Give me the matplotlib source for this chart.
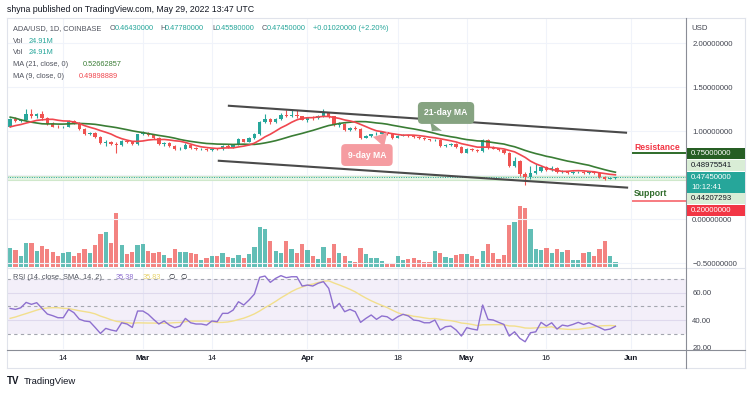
import matplotlib.pyplot as plt
import matplotlib.lines as mlines
import matplotlib.patches as mpatches
import numpy as np
import pandas as pd

plt.rcParams['font.family'] = ['Liberation Sans', 'DejaVu Sans']

W, H = 750, 393
C_UP = '#26a69a'
C_DN = '#ef5350'
C_TXT = '#131722'
C_GRID = '#f0f3fa'

# ---- data (ADA/USD daily, Feb 4 -> May 29 2022) ----
first_open = 1.045
closes = [1.136, 1.115, 1.125, 1.19, 1.165, 1.19, 1.145, 1.08, 1.05, 1.04,
          1.045, 1.11, 1.09, 1.02, 0.97, 0.975, 0.93, 0.86, 0.875, 0.855,
          0.845, 0.885, 0.87, 0.85, 0.966, 0.975, 0.955, 0.925, 0.85, 0.86,
          0.83, 0.79, 0.80, 0.845, 0.81, 0.795, 0.80, 0.78, 0.80, 0.79,
          0.835, 0.82, 0.845, 0.905, 0.88, 0.915, 0.97, 1.10, 1.135, 1.10,
          1.14, 1.18, 1.165, 1.185, 1.165, 1.13, 1.155, 1.145, 1.17, 1.20,
          1.165, 1.07, 1.085, 1.01, 1.03, 1.02, 0.925, 0.945, 0.965, 0.97,
          0.985, 0.965, 0.92, 0.945, 0.955, 0.94, 0.93, 0.915, 0.905, 0.895,
          0.90, 0.825, 0.84, 0.85, 0.82, 0.755, 0.80, 0.785, 0.775, 0.90,
          0.82, 0.80, 0.78, 0.75, 0.60, 0.66, 0.51, 0.48, 0.52, 0.545,
          0.59, 0.56, 0.585, 0.53, 0.545, 0.525, 0.53, 0.535, 0.525, 0.535,
          0.52, 0.48, 0.455, 0.4643, 0.4745]
highs = [1.15, 1.16, 1.14, 1.25, 1.25, 1.21, 1.23, 1.16, 1.10, 1.07,
         1.06, 1.12, 1.12, 1.10, 1.03, 0.99, 0.99, 0.94, 0.90, 0.89,
         0.87, 0.90, 0.90, 0.88, 0.97, 1.00, 0.99, 0.96, 0.93, 0.87,
         0.87, 0.84, 0.82, 0.86, 0.85, 0.82, 0.81, 0.81, 0.81, 0.81,
         0.84, 0.85, 0.855, 0.92, 0.91, 0.93, 0.98, 1.11, 1.19, 1.15,
         1.15, 1.20, 1.24, 1.24, 1.24, 1.17, 1.16, 1.17, 1.18, 1.25,
         1.21, 1.17, 1.10, 1.09, 1.04, 1.06, 1.03, 0.96, 0.97, 0.99,
         1.00, 0.99, 0.97, 0.96, 0.97, 0.96, 0.95, 0.94, 0.93, 0.91,
         0.91, 0.905, 0.85, 0.86, 0.86, 0.825, 0.81, 0.81, 0.79, 0.91,
         0.905, 0.83, 0.805, 0.785, 0.76, 0.70, 0.67, 0.53, 0.60, 0.63,
         0.60, 0.60, 0.60, 0.59, 0.555, 0.55, 0.54, 0.55, 0.545, 0.54,
         0.54, 0.525, 0.49, 0.47, 0.4778]
lows = [1.04, 1.10, 1.10, 1.12, 1.15, 1.15, 1.13, 1.07, 1.04, 1.03,
        1.03, 1.04, 1.08, 1.01, 0.96, 0.95, 0.92, 0.85, 0.83, 0.84,
        0.75, 0.83, 0.86, 0.84, 0.84, 0.95, 0.94, 0.91, 0.84, 0.83,
        0.82, 0.78, 0.78, 0.79, 0.80, 0.785, 0.785, 0.77, 0.775, 0.78,
        0.785, 0.81, 0.81, 0.84, 0.87, 0.87, 0.91, 0.96, 1.09, 1.08,
        1.09, 1.13, 1.16, 1.16, 1.15, 1.12, 1.10, 1.13, 1.14, 1.16,
        1.15, 1.06, 1.05, 1.00, 1.00, 1.01, 0.91, 0.92, 0.93, 0.95,
        0.96, 0.95, 0.91, 0.915, 0.94, 0.93, 0.92, 0.91, 0.90, 0.885,
        0.885, 0.815, 0.815, 0.83, 0.81, 0.745, 0.745, 0.775, 0.76, 0.765,
        0.80, 0.79, 0.77, 0.74, 0.59, 0.59, 0.49, 0.39, 0.45, 0.51,
        0.53, 0.55, 0.55, 0.52, 0.52, 0.515, 0.515, 0.525, 0.515, 0.515,
        0.51, 0.47, 0.445, 0.45, 0.4558]
volumes = [95, 83, 53, 121, 118, 81, 106, 88, 75, 53,
           71, 73, 53, 68, 88, 68, 110, 164, 178, 123,
           269, 108, 63, 73, 110, 113, 81, 71, 76, 61,
           46, 88, 76, 76, 68, 65, 33, 43, 53, 53,
           71, 50, 46, 61, 46, 65, 98, 199, 191, 133,
           78, 68, 133, 91, 71, 113, 85, 56, 40, 98,
           46, 113, 68, 56, 30, 25, 95, 65, 43, 43,
           30, 22, 22, 56, 37, 40, 46, 33, 23, 23,
           81, 68, 50, 46, 61, 65, 65, 53, 40, 78,
           116, 68, 40, 61, 209, 226, 305, 295, 191, 91,
           85, 95, 71, 88, 75, 85, 37, 37, 68, 75,
           53, 91, 129, 53, 24.91]
rsi = [48.5, 47.8, 49.0, 52.9, 51.5, 52.7, 48.5, 44.4, 43.2, 41.7,
       41.7, 47.8, 45.4, 40.7, 39.3, 38.8, 34.6, 30.2, 33.9, 32.7,
       31.9, 38.0, 37.1, 34.6, 46.6, 46.6, 44.2, 40.5, 37.1, 39.3,
       36.3, 34.4, 35.6, 41.2, 38.0, 37.1, 37.1, 36.3, 39.3, 38.8,
       44.9, 44.9, 47.3, 53.4, 51.0, 54.7, 59.0, 71.3, 72.2, 67.6,
       70.5, 72.5, 71.0, 71.7, 71.7, 64.9, 65.6, 64.9, 66.9, 68.1,
       63.2, 48.5, 52.2, 46.1, 47.8, 46.1, 38.3, 41.2, 43.7, 40.5,
       43.0, 42.4, 39.8, 42.4, 44.2, 43.0, 40.0, 39.5, 38.0, 38.0,
       40.0, 32.7, 35.1, 35.6, 32.7, 28.3, 34.4, 33.4, 32.7, 51.0,
       40.5, 40.0, 38.3, 36.8, 28.3, 31.4, 26.6, 24.1, 30.7, 31.4,
       38.3, 35.6, 38.0, 33.4, 36.3, 35.6, 36.8, 38.3, 36.8, 38.0,
       36.3, 34.6, 32.7, 33.4, 35.38]
# values before Feb 4, only used to warm up the moving averages
warm_closes = [1.38, 1.50, 1.48, 1.44, 1.39, 1.33, 1.12, 1.03, 1.09, 1.05,
               1.05, 1.03, 0.98, 1.02, 1.04, 1.03, 1.05, 1.09, 1.03, 1.045]
warm_rsi = [34, 31, 36, 34, 35, 33, 38, 40, 42, 48, 50, 56, 52]

tick_idx = [10, 25, 38, 56, 73, 86, 101, 117]
tick_labels = ['14', 'Mar', '14', 'Apr', '18', 'May', '16', 'Jun']
price_ticks = [2.0, 1.5, 1.0, 0.5, 0.0, -0.5]
rsi_ticks = [60, 40, 20]

# channel drawn by the author: (day index, price)
chan_upper = [(41.0, 1.2875), (116.2, 0.98)]
chan_lower = [(39.1, 0.6625), (116.4, 0.356)]
resistance, support = 0.75, 0.20
zone_hi, zone_lo = 0.48975541, 0.44207293
last_price = 0.4745

# ---- derived series ----
x = np.arange(len(closes))
c = np.array(closes)
o = np.array([first_open] + closes[:-1])
up = c >= o
cols = np.where(up, C_UP, C_DN)
s = pd.Series(warm_closes + closes)
ma21 = s.rolling(21).mean().iloc[20:].values
ma9 = s.rolling(9).mean().iloc[20:].values
rsi_ma = pd.Series(warm_rsi + rsi).rolling(14).mean().iloc[13:].values


def fx(px):
    return px / W


def fy(py):
    return 1 - py / H


fig = plt.figure(figsize=(7.5, 3.93), dpi=100, facecolor='white')
ax = fig.add_axes([fx(7), fy(268), 679 / W, 250 / H])
axr = fig.add_axes([fx(7), fy(349), 679 / W, 81 / H])
axv = ax.twinx()
axv.set_zorder(0)
ax.set_zorder(1)
ax.patch.set_visible(False)

xlim = (-0.6, 127.3)
for a in (ax, axr, axv):
    a.set_xlim(*xlim)
    for sp in a.spines.values():
        sp.set_visible(False)

# grids
for t in tick_idx:
    axv.axvline(t, color=C_GRID, lw=0.8, zorder=0)
    axr.axvline(t, color=C_GRID, lw=0.8, zorder=0)
for p in price_ticks:
    ax.axhline(p, color=C_GRID, lw=0.8, zorder=0)
for r in (60, 40):
    axr.axhline(r, color='#e9e6f2', lw=0.8, zorder=0)

# volume
axv.bar(x, volumes, width=0.8, color=cols, alpha=0.72, zorder=1)
axv.set_ylim(-5, 1250)
axv.set_yticks([])

# zone and price line
ax.axhspan(zone_lo, zone_hi, color='#e6f4e4', zorder=1, lw=0)
ax.axhline(zone_hi, color='#cfe8cb', lw=0.8, zorder=1)
ax.axhline(zone_lo, color='#cfe8cb', lw=0.8, zorder=1)
ax.axhline(last_price, color=C_UP, lw=0.7, ls=(0, (1, 1.5)), zorder=1)

# candles
ax.vlines(x, lows, highs, colors=cols, lw=0.8, zorder=3)
ax.bar(x, np.maximum(np.abs(c - o), 0.005), bottom=np.minimum(o, c),
       width=0.64, color=cols, zorder=3)

# moving averages
ax.plot(x, ma21, color='#3a7d35', lw=1.2, zorder=4)
ax.plot(x, ma9, color='#f0474f', lw=1.2, zorder=4)

# channel
for seg in (chan_upper, chan_lower):
    ax.plot([seg[0][0], seg[1][0]], [seg[0][1], seg[1][1]],
            color='#4a4a4a', lw=1.5, zorder=5, solid_capstyle='butt')

# resistance / support
ax.plot([117.3, xlim[1]], [resistance, resistance], color='#2e6b2a', lw=1.4, zorder=5)
ax.plot([117.3, xlim[1]], [support, support], color='#f77b80', lw=1.4, zorder=5)
ax.text(117.6, 0.818, 'Resistance', color='#f23645', fontsize=6.2,
        fontweight='bold', va='center', ha='left', zorder=6)
ax.text(117.5, 0.295, 'Support', color='#2e6b2a', fontsize=6.2,
        fontweight='bold', va='center', ha='left', zorder=6)

# callouts
arrow_kw = 'wedge,tail_width=1.8,shrink_factor=0.4'
ax.annotate('21-day MA', xy=(79.4, 0.995), xytext=(82.1, 1.205),
            ha='center', va='center', color='white', fontsize=6.2, fontweight='bold',
            bbox=dict(boxstyle='round,pad=0.75,rounding_size=0.5', fc='#86a381', ec='none'),
            arrowprops=dict(arrowstyle=arrow_kw, fc='#86a381', ec='none', shrinkB=0),
            zorder=7)
ax.annotate('9-day MA', xy=(71.2, 0.995), xytext=(67.2, 0.727),
            ha='center', va='center', color='white', fontsize=6.2, fontweight='bold',
            bbox=dict(boxstyle='round,pad=0.75,rounding_size=0.5', fc='#f59ca1', ec='none'),
            arrowprops=dict(arrowstyle=arrow_kw, fc='#f59ca1', ec='none', shrinkB=0),
            zorder=7)

ax.set_ylim((219 - 268) / 88, (219 - 18) / 88)
ax.yaxis.tick_right()
ax.set_yticks(price_ticks)
ax.set_yticklabels([f'{p:.8f}'.replace('-', '\u2212') for p in price_ticks])
ax.tick_params(axis='y', length=0, pad=4.5, labelsize=5.6, labelcolor='#434651')
ax.tick_params(axis='x', bottom=False, labelbottom=False)
axv.tick_params(axis='x', bottom=False, labelbottom=False)

# RSI pane
axr.axhspan(30, 70, color='#7e57c2', alpha=0.09, lw=0, zorder=0)
for lvl in (70, 50, 30):
    axr.axhline(lvl, color='#a3a6af', lw=0.8, ls=(0, (3, 3)), zorder=1)
axr.plot(x, rsi_ma, color='#f2df8c', lw=1.0, zorder=2)
axr.plot(x, rsi, color='#8e70cf', lw=1.0, zorder=3)
axr.set_ylim(18.8, 78.1)
axr.yaxis.tick_right()
axr.set_yticks(rsi_ticks)
axr.set_yticklabels([f'{r:.2f}' for r in rsi_ticks])
axr.tick_params(axis='y', length=0, pad=4.5, labelsize=5.6, labelcolor='#434651')
axr.set_xticks(tick_idx)
axr.set_xticklabels(tick_labels)
axr.tick_params(axis='x', length=0, pad=4.5, labelsize=5.8, labelcolor=C_TXT)
for lab in axr.get_xticklabels():
    if not lab.get_text().isdigit():
        lab.set_fontweight('bold')

# frame lines
def fline(x0, y0, x1, y1, color, lw=0.8):
    fig.add_artist(mlines.Line2D([fx(x0), fx(x1)], [fy(y0), fy(y1)],
                                 color=color, lw=lw, zorder=5))

fline(7, 18, 745, 18, '#e0e3eb')
fline(7, 368, 745, 368, '#e0e3eb')
fline(7, 18, 7, 368, '#e0e3eb')
fline(745, 18, 745, 368, '#e0e3eb')
fline(7, 268, 745, 268, '#e0e3eb')
fline(7, 349.5, 745, 349.5, '#8a8d96')
fline(686, 18, 686, 368, '#8a8d96')

# price axis boxes
def fbox(y0, y1, fc, lines, tc):
    fig.add_artist(mpatches.Rectangle((fx(686.5), fy(y1)), 58.5 / W, (y1 - y0) / H,
                                      transform=fig.transFigure, fc=fc, ec='none', zorder=6))
    step = (y1 - y0) / len(lines)
    for i, t in enumerate(lines):
        fig.text(fx(691), fy(y0 + step * (i + 0.5)), t, fontsize=5.6, color=tc,
                 va='center', ha='left', zorder=7)

fbox(148, 159, '#265e24', ['0.75000000'], 'white')
fbox(160, 171, '#d9edd6', ['0.48975541'], C_TXT)
fbox(172, 193, C_UP, ['0.47450000', '10:12:41'], 'white')
fbox(193.5, 204.5, '#d9edd6', ['0.44207293'], C_TXT)
fbox(205, 216, '#f23645', ['0.20000000'], 'white')
fig.text(fx(691), fy(28), 'USD', fontsize=5.6, color='#434651', va='center')

# legend texts
LF = 5.3
fig.text(fx(7), fy(9), 'shyna published on TradingView.com, May 29, 2022 13:47 UTC',
         fontsize=6.3, color=C_TXT, va='center')
GR = '#50535e'
row1 = [(13, 'ADA/USD, 1D, COINBASE', GR), (110, 'O', GR), (114.5, '0.46430000', C_UP),
        (160, 'H', GR), (165, '0.47780000', C_UP), (212, 'L', GR), (216, '0.45580000', C_UP),
        (262, 'C', GR), (267, '0.47450000', C_UP), (313, '+0.01020000 (+2.20%)', C_UP)]
for px, t, col in row1:
    fig.text(fx(px), fy(29), t, fontsize=LF, color=col, va='center')
for py in (41.5, 53):
    fig.text(fx(13), fy(py), 'Vol', fontsize=LF, color=GR, va='center')
    fig.text(fx(29), fy(py), '24.91M', fontsize=LF, color=C_UP, va='center')
fig.text(fx(13), fy(64.5), 'MA (21, close, 0)', fontsize=LF, color=GR, va='center')
fig.text(fx(82.5), fy(64.5), '0.52662857', fontsize=LF, color='#3a7d35', va='center')
fig.text(fx(13), fy(76), 'MA (9, close, 0)', fontsize=LF, color=GR, va='center')
fig.text(fx(79), fy(76), '0.49898889', fontsize=LF, color='#f0474f', va='center')

fig.text(fx(13), fy(277.5), 'RSI (14, close, SMA, 14, 2)', fontsize=LF, color=GR, va='center')
fig.text(fx(116), fy(277.5), '35.38', fontsize=LF, color='#8e70cf', va='center')
fig.text(fx(143), fy(277.5), '35.83', fontsize=LF, color='#e8d36a', va='center')
fig.text(fx(168), fy(277.5), '\u2205', fontsize=LF, color=C_TXT, va='center')
fig.text(fx(180), fy(277.5), '\u2205', fontsize=LF, color=C_TXT, va='center')

# logo
fig.text(fx(7), fy(381), 'TV', fontsize=7, fontweight='bold', color=C_TXT, va='center')
fig.text(fx(23.5), fy(381), 'TradingView', fontsize=6.8, color=C_TXT, va='center')

fig.savefig('out.png', dpi=100, facecolor='white')
